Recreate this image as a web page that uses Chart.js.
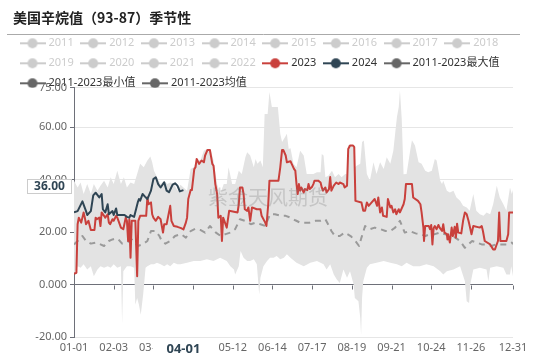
<!DOCTYPE html>
<html>
<head>
<meta charset="utf-8">
<script src="https://cdn.jsdelivr.net/npm/chart.js@4"></script>
<style>
  html, body { margin: 0; padding: 0; background: #fff; }
</style>
</head>
<body>
<canvas id="chart" width="537" height="359"></canvas>
<script>
// Axis ticks (x = day of year, 366-day calendar)
const xTicks = [0, 33, 66, 99, 132, 165, 198, 231, 264, 297, 330, 365];
const xTickLabels = ['01-01', '02-03', '03-07', '04-09', '05-12', '06-14', '07-17', '08-19', '09-21', '10-24', '11-26', '12-31'];
const yTicks = [-20, 0, 20, 40, 60, 75];
const yTickLabels = ['-20.00', '0.000', '20.00', '40.00', '60.00', '75.00'];

// Years switched off in the legend
const oldYears = ['2011', '2012', '2013', '2014', '2015', '2016', '2017', '2018', '2019', '2020', '2021', '2022'];

// Axis pointer shown in the picture
const pointerDay = 91;
const pointerDayLabel = '04-01';
const pointerValue = 36;
const pointerValueLabel = '36.00';

// [day, value]
const s2024 = [[0,27.5],[3,28],[7,31.7],[10,28],[11,26.5],[14,28],[16,34],[18,35],[21,33.2],[23,34.5],[24,28.7],[26,27.5],[28,30.6],[29,26.8],[32,28],[33,26.5],[35,29],[36,26.5],[39,26.5],[42,26.5],[44,25.8],[46,25.5],[47,26.5],[50,25.8],[53,31.3],[54,32.6],[55,32],[57,34.5],[59,33.5],[61,32.6],[64,35.8],[66,40.2],[68,40.9],[70,38.3],[72,37],[75,39],[77,35.8],[79,35.2],[82,38.1],[84,38.6],[86,37.7],[88,35.5],[91,36]];

const s2023 = [[0,4.1],[2,4.5],[3,23],[4,25.5],[6,23.6],[8,27.5],[9,25.5],[10,23],[12,24.3],[14,20.8],[17,20.8],[18,25.5],[19,24.9],[21,25.5],[22,22.3],[23,27.5],[25,26.2],[26,25.5],[28,26.8],[29,23.6],[30,23],[32,24.9],[33,24.3],[35,26.2],[36,25.5],[37,24.3],[39,21.7],[41,21.1],[43,25.5],[44,24.3],[45,16.6],[46,24.9],[47,10.2],[48,24.3],[51,24.3],[52.5,3.2],[53.5,24.3],[55,26.2],[60,26.2],[61,33.2],[62,30.6],[64,31.3],[65,26.8],[66,25.5],[68,24.3],[70,25.8],[72,24.9],[74,19.8],[75,23],[77,23],[80,30],[81,24.3],[83,22.3],[86,22],[89,21.5],[91,21],[93,23.6],[94,25.5],[95,32.6],[97,36],[98,36],[100,44],[101,44.7],[102,47.9],[104,46],[106,47.3],[108,46.6],[109,49.2],[111,51.3],[113,51.3],[115,46],[116,45.3],[117.5,38.3],[119,34.5],[120,25.5],[122,26.2],[123,16.6],[124,25.5],[125,24.3],[127,21.7],[129,28.1],[136,27.5],[137,30.6],[138,37],[140,37],[141,34.5],[142,28.7],[144,28.1],[145,29.4],[146.5,24.3],[148,29.4],[152,28.7],[155,28.7],[156,26.2],[159,23.6],[160,22.3],[161.5,30.6],[162.5,39.6],[170,39.6],[171.5,44.7],[173,51.3],[174,51.3],[176,49.2],[177,46.6],[180,47],[181,46],[183,44],[184,43.4],[185,38.3],[186,34.5],[187,38.3],[188,35.8],[189,37],[191,35.1],[192,36.4],[194,36],[195,38.3],[196,36.4],[198,37.3],[199,38.3],[200,39.6],[203,39.6],[205,38.9],[206,37],[207,35.8],[209,37],[210,35.1],[212,36.4],[213,41],[214,35.8],[216,37.7],[218,38.9],[220,38.3],[221,38.9],[224,38.3],[225,37],[227,37.7],[228,51.7],[229.5,53],[232,53],[233,52.4],[234,31.9],[239,31.3],[240.5,28.1],[242,28.1],[243.5,31.3],[245,30],[247.5,31.3],[250,32.6],[252,30],[253,33.2],[254.5,27.5],[256,29.4],[257,26.2],[260,25.8],[261,32.6],[263,29.4],[264,30],[265.5,27.5],[267,28.7],[268,26.8],[270,28.7],[271,27.5],[274,30.6],[275,32.6],[276,38.3],[281,38.3],[282,33.2],[286,31.9],[288,30.6],[289,27.5],[290.5,21.7],[291,16.6],[292,22.3],[295,22.3],[296,21.1],[297,22.7],[298,15.3],[299,21.5],[300,22.3],[301.5,21.1],[303,22.7],[304,21.7],[306,20.4],[307,23],[308,19.8],[310,19.2],[310.5,17.2],[311,19.2],[312.5,16],[314,21.7],[315,18.5],[316.5,22],[317.5,17.9],[318.5,23.2],[319.5,19.8],[322,19.5],[323.5,24.3],[325,27.5],[326.5,26.8],[328,24.3],[329,22.3],[330.5,19.2],[332,22.3],[337.5,21.7],[339,22.3],[340,20.4],[341.5,16.6],[346,15.3],[348.5,13.4],[350,13.4],[351,14.7],[352.5,16.6],[353.5,27.5],[354.5,16.6],[359.5,16.6],[361,19.2],[361.8,27.5],[365,27.5]];

const sMax = [[0,39.6],[3,37],[5.5,38.9],[8,34.5],[11,38.3],[14,34.5],[16.5,38.3],[19.5,35.8],[22,37.7],[25,39.6],[28,37],[30.5,40.9],[33,38.3],[36,43.4],[39,38.3],[41.5,40.9],[44,37],[47,38.9],[50,38.3],[52.5,42.1],[55,46],[58,44.7],[61,47.3],[63.5,48.8],[65,46.6],[66.5,43.4],[69,41],[72,38.3],[75,39.6],[77.5,38.3],[80,38.9],[83,38.3],[86,35.8],[88.5,38],[91,37],[94,35.8],[97,44],[99.5,44.7],[102,47.9],[105,47.3],[108,51],[110.5,51.7],[113.5,51.7],[116,47.3],[119,38.3],[121.5,34.5],[124.5,38.3],[127,38.3],[128.5,44.7],[131.5,38.3],[134,38.3],[137,43.4],[139.5,42.1],[142.5,48.5],[144,50.4],[146.5,49.2],[149.5,44.7],[151,47.9],[152.5,46],[155,47.3],[157,44.7],[158.5,65],[161,65],[162.5,73.4],[164.5,67.7],[169.5,67.7],[171.5,57.5],[173,54.3],[175.5,56.2],[177,57.5],[178.5,51.7],[180,52],[182.5,46],[185,44.7],[188,51],[191,49.2],[193.5,42.1],[199,42.1],[202,42.8],[205,42.8],[206,49.8],[207.5,49.2],[209,40.9],[211.5,41.5],[214.5,43.4],[217,40.9],[220,42.1],[222.5,40.9],[225.5,42.1],[227.5,42],[228,53.2],[233,53.2],[233.5,44.7],[235,45.3],[238,46],[239.5,54.3],[241,54.9],[243.5,42.1],[246,39.6],[249,46.6],[251.5,42.1],[254.5,46.6],[257.5,44],[260,48.5],[263,46],[265.5,51],[267,57.5],[268.5,63.9],[270,67.7],[271,74],[272.5,63],[274,42],[276.5,42.1],[279.5,51],[281,55],[283.5,53],[286.5,46.6],[289,46],[292,43.4],[294.5,42.8],[297.5,43.4],[300,47.9],[301.5,47.3],[304.5,39.6],[306,38.3],[307,39.6],[310,35.8],[312.5,35.1],[315.5,35.8],[318,33.2],[321,31.9],[323.5,30],[326.5,29.4],[329,28.1],[332,34.5],[334.5,28.1],[337.5,26.8],[340.5,26.2],[343,27.5],[346,26.8],[348.5,30.6],[351.5,37.7],[354,33.2],[357,30.6],[359.5,28.1],[362.5,37],[364,34.5],[365,36]];

const sMin = [[0,4],[3,7],[5.5,6.4],[8,7.7],[11,5.7],[14,7],[16.5,3.2],[19.5,5.7],[22,7],[25,6.4],[28,7],[30.5,6.4],[33,7.7],[36,6.4],[39,7],[40,-15],[41,5.1],[44,7],[47,7],[50,6.4],[51,-7.7],[52.5,-5.1],[54,-7.7],[55.5,-11.5],[56.5,-7.7],[57.5,-3.8],[59.5,6.4],[61,7],[64,7.7],[66.5,7.7],[69,8.3],[72,7.7],[75,7],[77.5,7.7],[80,7],[83,8.3],[86,7.7],[88.5,7.7],[94,8.3],[99.5,9],[105,9],[110.5,9.6],[116,9],[121.5,10.2],[127,9],[130,7],[133,5.7],[134,3.8],[137,7],[138.5,12.8],[141,10.2],[144,9],[146.5,9],[149.5,9.6],[152,7.7],[154,-3.8],[155,2.6],[157.5,7],[160.5,9],[163,10.2],[166,10.2],[168.5,10.9],[171.5,9.6],[174.5,10.2],[177,11.5],[180,10.2],[185,8.3],[191,7],[196.5,8.3],[202,9],[207.5,7.7],[210,5.7],[213,7.7],[216,3.8],[218.5,1.9],[221,0.6],[224,5.7],[227,2.6],[229.5,5.1],[232.5,0],[233.5,-5.1],[236.5,-6.4],[238,-12.8],[238.7,-19.2],[239.5,-5.1],[240.5,1.3],[243.5,6.4],[246,7.7],[251.5,8.3],[257.5,9],[263,8.3],[268.5,7.7],[272.5,7],[276.5,8.3],[282,7],[287.5,7],[293,7.7],[299,7],[304.5,5.1],[307,3.8],[310,5.1],[315.5,5.7],[321,7],[325,1.3],[326.5,-6.4],[328.5,-7],[329.5,0],[332,5.7],[337.5,6.4],[343,5.7],[344.5,1.3],[346,6.4],[351.5,7],[357,6.4],[359.5,3.8],[362.5,3.8],[363.5,7],[365,3.2]];

const sMean = [[0,15.3],[3,16.6],[7,18.5],[10,16.6],[14,15.6],[18,16],[22,15.3],[25,14.7],[29,16.6],[32,17.2],[35,17.6],[37,17.2],[40,15.6],[44,16],[48,17.2],[53,14.7],[57,15.3],[61,16.6],[64,20.4],[68,20.4],[71,18.5],[73,16.6],[76,15.6],[80,16.6],[84,18.5],[89,19.2],[93,17.9],[97,20.4],[101,21.3],[105,20.8],[109,19.8],[113,22.3],[118,19.8],[122,18.5],[126,19.2],[130,19.8],[134,21.1],[138,24.9],[142,24.3],[147,23],[151,23.6],[155,23],[159,22.3],[163,26.8],[167,26.8],[172,26.2],[176,26.2],[180,25.5],[184,24.5],[188,23.6],[192,23.6],[196,23.6],[201,24.3],[205,24.3],[209,24.9],[212,22.3],[214,20.4],[217,18.5],[221,18.5],[225,19.8],[230,18.5],[234,16.6],[237,14.7],[239,17.9],[242,22.3],[246,21.1],[250,21.7],[255,21.1],[259,20.4],[263,20.4],[267,21.7],[271,24.3],[275,19.8],[279,20.4],[284,19.5],[288,19.2],[292,18.5],[296,19.2],[300,19.2],[304,19.8],[308,19.2],[313,18.5],[317,17.9],[321,16.6],[325,14],[328,15.3],[331,16.6],[335,16],[339,15.3],[343,15.3],[347,14.7],[351,15.3],[356,15.3],[360,15.3],[364,16],[365,15.4]];

const FONT = '"Noto Sans", "Noto Sans CJK SC", sans-serif';
const toXY = arr => arr.map(([x, y]) => ({ x, y }));

// legend icon: short line with a dot in the middle
function makeIcon(color) {
    const c = document.createElement('canvas');
    c.width = 26;
    c.height = 12;
    const g = c.getContext('2d');
    g.strokeStyle = color;
    g.lineWidth = 2;
    g.beginPath();
    g.moveTo(0, 6);
    g.lineTo(26, 6);
    g.stroke();
    g.fillStyle = color;
    g.beginPath();
    g.arc(13, 6, 5, 0, Math.PI * 2);
    g.fill();
    return c;
}

const datasets = oldYears.map(y => ({
    label: y, data: [], legendColor: '#ccc', legendActive: false, order: 9
}));
datasets.push(
    { label: '2023', data: toXY(s2023), borderColor: '#c9403c', borderWidth: 2, legendColor: '#c9403c', legendActive: true, order: 2 },
    { label: '2024', data: toXY(s2024), borderColor: '#2f4554', borderWidth: 2, legendColor: '#2f4554', legendActive: true, order: 1 },
    { label: '2011-2023最大值', data: toXY(sMax), borderWidth: 0, fill: '+1', backgroundColor: '#e3e3e3', legendColor: '#666', legendActive: true, order: 6 },
    { label: '2011-2023最小值', data: toXY(sMin), borderWidth: 0, legendColor: '#666', legendActive: true, order: 5 },
    { label: '2011-2023均值', data: toXY(sMean), borderColor: '#9a9a9a', borderWidth: 2, borderDash: [6, 5], legendColor: '#666', legendActive: true, order: 3 }
);

// title rule, zero-line ticks, watermark and axis pointer labels
const extras = {
    id: 'extras',
    afterDatasetsDraw(chart) {
        const ctx = chart.ctx;
        const xs = chart.scales.x, ys = chart.scales.y;
        ctx.save();
        // small ticks under the zero line
        const y0 = Math.round(ys.getPixelForValue(0)) + 0.5;
        ctx.strokeStyle = '#6e7079';
        ctx.lineWidth = 1;
        ctx.beginPath();
        xTicks.forEach(v => {
            const x = Math.round(xs.getPixelForValue(v)) + 0.5;
            ctx.moveTo(x, y0);
            ctx.lineTo(x, y0 + 4);
        });
        ctx.stroke();

        ctx.font = '20px "Noto Sans CJK SC"';
        ctx.fillStyle = 'rgba(120,120,120,0.28)';
        ctx.textAlign = 'left';
        ctx.textBaseline = 'middle';
        ctx.fillText('紫金天风期货', 208, 197);
        ctx.restore();
    },
    afterDraw(chart) {
        const ctx = chart.ctx;
        const xs = chart.scales.x, ys = chart.scales.y;
        ctx.save();
        ctx.strokeStyle = '#aaa';
        ctx.lineWidth = 1;
        ctx.beginPath();
        ctx.moveTo(7, 34.5);
        ctx.lineTo(520, 34.5);
        ctx.stroke();

        // y pointer label
        const py = Math.round(ys.getPixelForValue(pointerValue)) - 3.5;
        ctx.fillStyle = '#fff';
        ctx.strokeStyle = '#ccc';
        ctx.fillRect(27, py - 7, 45, 14);
        ctx.strokeRect(27.5, py - 7, 44, 14);
        ctx.font = 'bold 12px ' + FONT;
        ctx.fillStyle = '#2f4554';
        ctx.textAlign = 'center';
        ctx.textBaseline = 'middle';
        ctx.fillText(pointerValueLabel, 49.5, py + 0.5);

        // x pointer label
        const px = xs.getPixelForValue(pointerDay);
        ctx.fillStyle = '#fff';
        ctx.fillRect(px - 31, 340, 62, 19);
        ctx.font = 'bold 13px ' + FONT;
        ctx.fillStyle = '#2f4554';
        ctx.fillText(pointerDayLabel, px, 349.5);
        ctx.restore();
    }
};

// squeeze the legend so the plot starts right under it
const legendSqueeze = {
    id: 'legendSqueeze',
    beforeInit(chart) {
        const legend = chart.legend;
        if (legend && !legend._squeezed) {
            const fit = legend.fit;
            legend.fit = function () {
                fit.call(this);
                this.height -= 11;
            };
            legend._squeezed = true;
        }
    },
    afterInit(chart) {
        this.beforeInit(chart);
    }
};

new Chart(document.getElementById('chart'), {
    type: 'line',
    data: { datasets: datasets },
    options: {
        responsive: false,
        animation: false,
        devicePixelRatio: 1,
        layout: { padding: { left: 13, right: 24, top: 0, bottom: 0 } },
        elements: {
            point: { radius: 0, hoverRadius: 0 },
            line: { tension: 0, borderJoinStyle: 'round', fill: false }
        },
        plugins: {
            title: {
                display: true,
                text: '美国辛烷值（93-87）季节性',
                align: 'start',
                color: '#222',
                font: { family: '"Noto Sans CJK SC"', size: 14, weight: 'bold' },
                padding: { top: 9, bottom: 3 }
            },
            legend: {
                position: 'top',
                align: 'start',
                onClick: null,
                labels: {
                    usePointStyle: true,
                    pointStyleWidth: 21,
                    padding: 9,
                    font: { family: FONT, size: 11 },
                    generateLabels: chart => chart.data.datasets.map((ds, i) => ({
                        text: ds.label,
                        pointStyle: makeIcon(ds.legendColor),
                        fontColor: ds.legendActive ? '#333' : '#ccc',
                        fillStyle: ds.legendColor,
                        strokeStyle: ds.legendColor,
                        lineWidth: 0,
                        hidden: false,
                        datasetIndex: i
                    }))
                }
            },
            tooltip: { enabled: false }
        },
        scales: {
            x: {
                type: 'linear',
                min: 0,
                max: 365,
                afterBuildTicks: axis => { axis.ticks = xTicks.map(v => ({ value: v })); },
                afterFit: axis => { axis.height = 22; },
                grid: { display: false, drawTicks: false },
                border: { display: false },
                ticks: {
                    autoSkip: false,
                    maxRotation: 0,
                    padding: 4,
                    color: '#666',
                    font: { family: FONT, size: 11 },
                    callback: v => xTickLabels[xTicks.indexOf(v)] || ''
                }
            },
            y: {
                min: -20,
                max: 75,
                afterBuildTicks: axis => { axis.ticks = yTicks.map(v => ({ value: v })); },
                afterFit: axis => { axis.width = 61; },
                grid: {
                    color: c => (c.tick && c.tick.value === 0) ? '#6e7079' : '#e6e6e6',
                    tickColor: '#6e7079',
                    tickLength: 4
                },
                border: { display: true, color: '#6e7079' },
                ticks: {
                    padding: 3,
                    color: '#666',
                    font: { family: FONT, size: 11 },
                    callback: v => yTickLabels[yTicks.indexOf(v)] || ''
                }
            }
        }
    },
    plugins: [legendSqueeze, extras]
});
</script>
</body>
</html>
